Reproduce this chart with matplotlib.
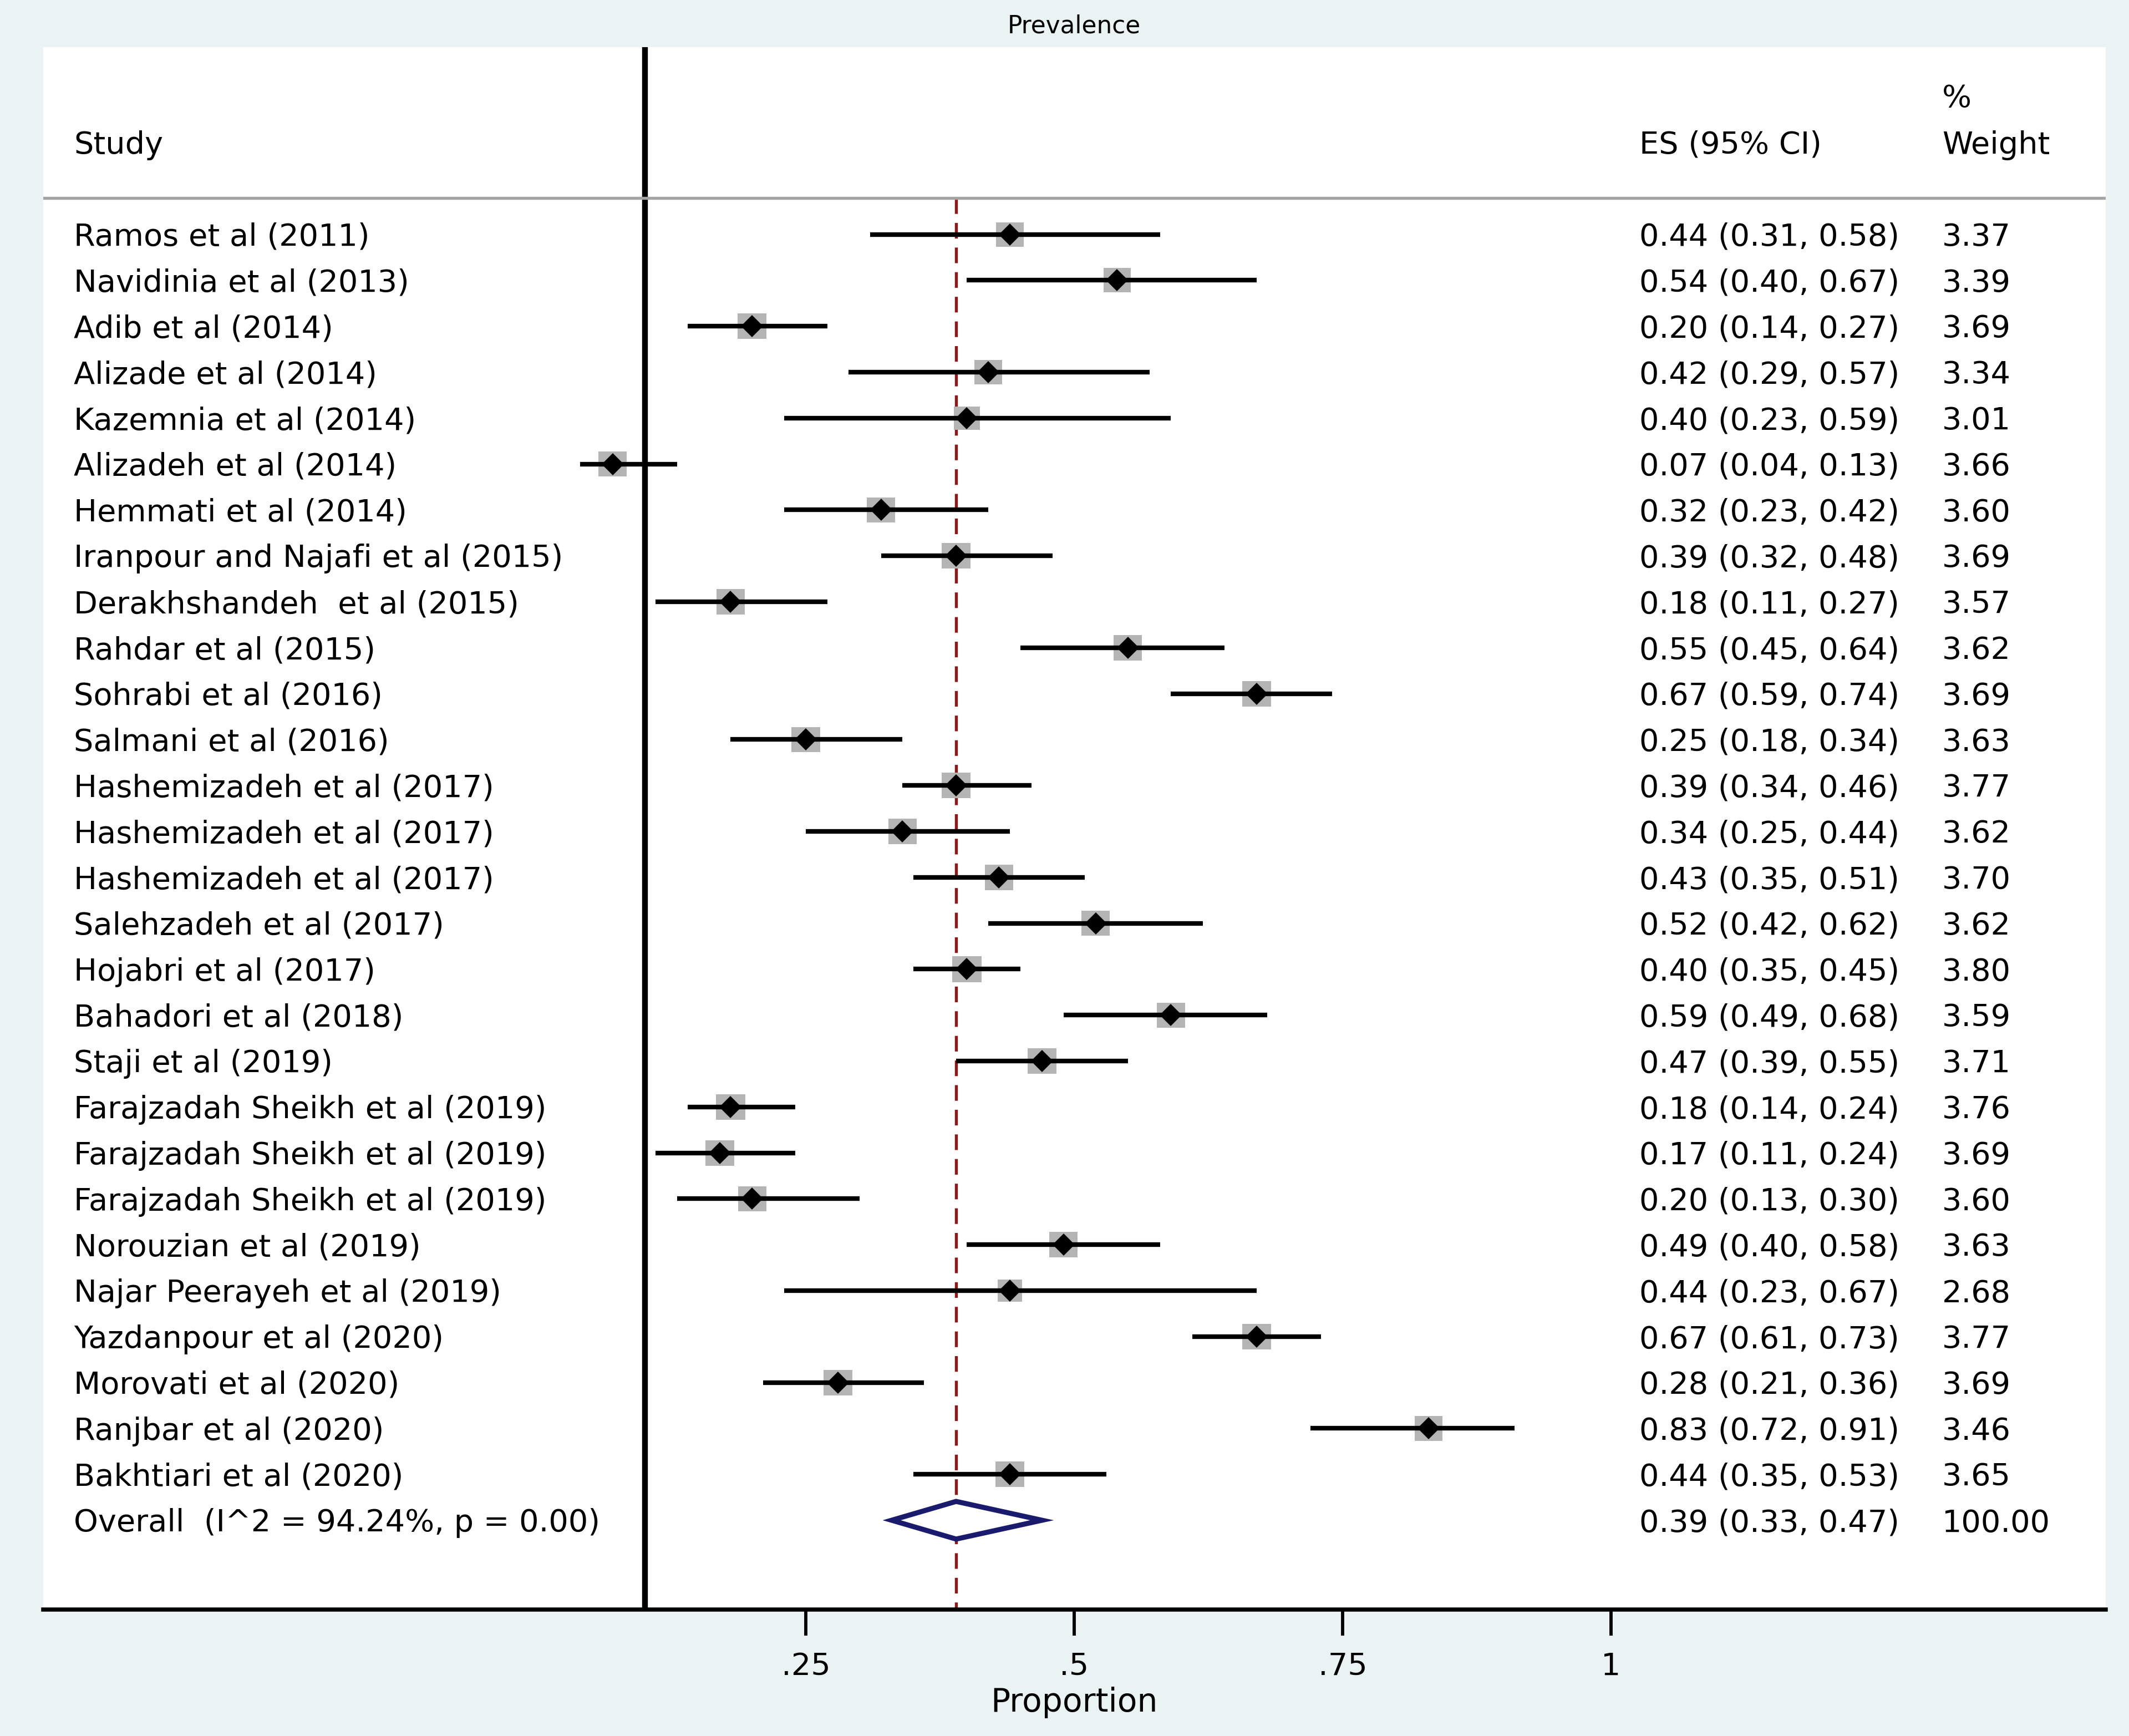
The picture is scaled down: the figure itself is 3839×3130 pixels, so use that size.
import numpy as np
import matplotlib
matplotlib.use("Agg")
import matplotlib.pyplot as plt
from matplotlib.patches import Polygon

# pixel geometry of the reference (3839 x 3130)
W, H, DPI = 3839, 3130, 300
BG = "#EAF2F3"

studies = [
    "Ramos et al (2011)", "Navidinia et al (2013)", "Adib et al (2014)",
    "Alizade et al (2014)", "Kazemnia et al (2014)", "Alizadeh et al (2014)",
    "Hemmati et al (2014)", "Iranpour and Najafi et al (2015)",
    "Derakhshandeh  et al (2015)", "Rahdar et al (2015)", "Sohrabi et al (2016)",
    "Salmani et al (2016)", "Hashemizadeh et al (2017)", "Hashemizadeh et al (2017)",
    "Hashemizadeh et al (2017)", "Salehzadeh et al (2017)", "Hojabri et al (2017)",
    "Bahadori et al (2018)", "Staji et al (2019)", "Farajzadah Sheikh et al (2019)",
    "Farajzadah Sheikh et al (2019)", "Farajzadah Sheikh et al (2019)",
    "Norouzian et al (2019)", "Najar Peerayeh et al (2019)", "Yazdanpour et al (2020)",
    "Morovati et al (2020)", "Ranjbar et al (2020)", "Bakhtiari et al (2020)",
]
es = [0.44, 0.54, 0.20, 0.42, 0.40, 0.07, 0.32, 0.39, 0.18, 0.55, 0.67, 0.25, 0.39, 0.34,
      0.43, 0.52, 0.40, 0.59, 0.47, 0.18, 0.17, 0.20, 0.49, 0.44, 0.67, 0.28, 0.83, 0.44]
lo = [0.31, 0.40, 0.14, 0.29, 0.23, 0.04, 0.23, 0.32, 0.11, 0.45, 0.59, 0.18, 0.34, 0.25,
      0.35, 0.42, 0.35, 0.49, 0.39, 0.14, 0.11, 0.13, 0.40, 0.23, 0.61, 0.21, 0.72, 0.35]
hi = [0.58, 0.67, 0.27, 0.57, 0.59, 0.13, 0.42, 0.48, 0.27, 0.64, 0.74, 0.34, 0.46, 0.44,
      0.51, 0.62, 0.45, 0.68, 0.55, 0.24, 0.24, 0.30, 0.58, 0.67, 0.73, 0.36, 0.91, 0.53]
weight = [3.37, 3.39, 3.69, 3.34, 3.01, 3.66, 3.60, 3.69, 3.57, 3.62, 3.69, 3.63, 3.77, 3.62,
          3.70, 3.62, 3.80, 3.59, 3.71, 3.76, 3.69, 3.60, 3.63, 2.68, 3.77, 3.69, 3.46, 3.65]

overall_label = "Overall  (I^2 = 94.24%, p = 0.00)"
overall_es, overall_lo, overall_hi = 0.39, 0.33, 0.47
overall_weight = 100.00
null_value = 0.1

ticks = [0.25, 0.5, 0.75, 1.0]
tick_labels = [".25", ".5", ".75", "1"]


def px2x(px):
    return (px - 969) / 1936.0


def py2row(py):
    return (py - 422.6) / 82.8


plt.rcParams["font.family"] = ["DejaVu Sans"]
FS = 13.4

fig = plt.figure(figsize=(W / DPI, H / DPI), dpi=DPI)
fig.patch.set_facecolor(BG)

left, right, top, bottom = 78, 3797, 85, 2902
ax = fig.add_axes([left / W, 1 - bottom / H, (right - left) / W, (bottom - top) / H])
ax.set_facecolor("white")
ax.set_xlim(px2x(left), px2x(right))
ax.set_ylim(py2row(bottom), py2row(top))

n = len(studies)
rows = np.arange(n)
base = 0.245  # baseline offset so the cap height is centred on the row

# null line and overall line
ax.axvline(null_value, color="black", lw=2.5, zorder=2)
ax.plot([overall_es, overall_es], [py2row(357), py2row(bottom)], color="#8B1A1A",
        lw=1.3, dashes=(5.2, 3.0), zorder=1)
ax.axhline(py2row(357), color="#A4A4A4", lw=1.3, zorder=3)

# study boxes, CI lines and point estimates
box = [(-0.565, -0.5), (0.565, -0.5), (0.565, 0.5), (-0.565, 0.5), (-0.565, -0.5)]
ax.scatter(es, rows, s=np.array(weight) * 42, marker=box, color="#B4B4B4",
           linewidths=0, zorder=4)
ax.hlines(rows, lo, hi, color="black", lw=2.0, zorder=5)
ax.plot(es, rows, linestyle="none", marker="D", markersize=5.8, color="black", zorder=6)

# overall diamond
yo = n
dh = 0.41
ax.add_patch(Polygon([(overall_lo, yo), (overall_es, yo - dh), (overall_hi, yo),
                      (overall_es, yo + dh)], closed=True, facecolor="white",
                     edgecolor="#1B1B6E", lw=2.2, zorder=6))

# text columns
X_STUDY, X_ES, X_WT = px2x(133), px2x(2956), px2x(3502)
ax.text(X_STUDY, py2row(277), "Study", fontsize=FS, va="baseline")
ax.text(X_ES, py2row(277), "ES (95% CI)", fontsize=FS, va="baseline")
ax.text(X_WT, py2row(193), "%", fontsize=FS, va="baseline")
ax.text(X_WT, py2row(277), "Weight", fontsize=FS, va="baseline")

for i in range(n):
    ax.text(X_STUDY, i + base, studies[i], fontsize=FS, va="baseline")
    ax.text(X_ES, i + base, f"{es[i]:.2f} ({lo[i]:.2f}, {hi[i]:.2f})",
            fontsize=FS, va="baseline")
    ax.text(X_WT, i + base, f"{weight[i]:.2f}", fontsize=FS, va="baseline")
ax.text(X_STUDY, n + base, overall_label, fontsize=FS, va="baseline")
ax.text(X_ES, n + base, f"{overall_es:.2f} ({overall_lo:.2f}, {overall_hi:.2f})",
        fontsize=FS, va="baseline")
ax.text(X_WT, n + base, f"{overall_weight:.2f}", fontsize=FS, va="baseline")

# axis
for s in ["left", "right", "top"]:
    ax.spines[s].set_visible(False)
ax.spines["bottom"].set_linewidth(1.8)
ax.set_yticks([])
ax.set_xticks(ticks)
ax.set_xticklabels(tick_labels)
ax.tick_params(axis="x", direction="out", length=11.3, width=1.4, pad=7, labelsize=FS)
ax.set_xlabel("Proportion", fontsize=14, labelpad=2)

fig.text(1937 / W, 1 - 59 / H, "Prevalence", fontsize=10.5, ha="center", va="baseline")

fig.savefig("out.png", dpi=DPI, facecolor=fig.get_facecolor())
